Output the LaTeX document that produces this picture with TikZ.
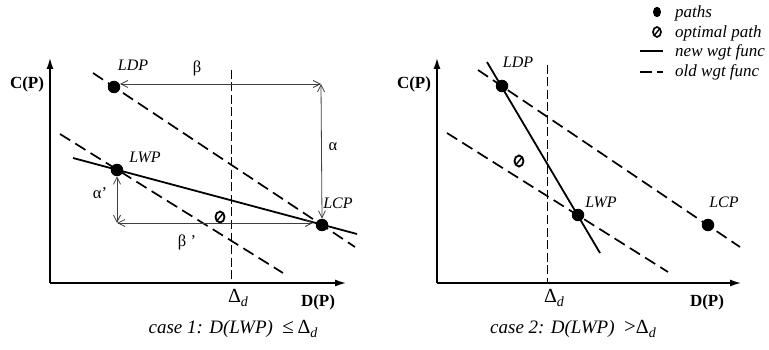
\documentclass[tikz,border=0pt]{standalone}
\usepackage{fontspec}
\setmainfont{Liberation Serif}
\usetikzlibrary{arrows.meta,shapes.geometric}
\newcommand{\Dd}{{\upshape\fontsize{20}{20}\selectfont Δ}\raisebox{-4pt}{\fontsize{14}{14}\selectfont\itshape d}}
\begin{document}
\begin{tikzpicture}[x=1pt,y=-1pt,
  axis/.style={line width=2.2pt,-{Latex[length=12pt,width=7pt]}},
  olddash/.style={line width=1.7pt,dash pattern=on 12pt off 6pt},
  newline/.style={line width=1.8pt},
  deltaline/.style={line width=0.9pt,dash pattern=on 9pt off 3.5pt},
  dimarrow/.style={line width=0.8pt,draw=black!75,{Straight Barb[length=7pt,width=7pt]}-{Straight Barb[length=7pt,width=7pt]}},
  pathdot/.style={circle,fill=black,inner sep=0pt,minimum size=12.5pt},
  optdot/.style={ellipse,draw=black,fill=white,line width=1.8pt,inner sep=0pt,minimum width=9pt,minimum height=11pt,
    path picture={\draw[line width=1.4pt] (path picture bounding box.south west) -- (path picture bounding box.north east);}},
  legdot/.style={ellipse,fill=black,inner sep=0pt,minimum width=8pt,minimum height=10.5pt},
  lbl/.style={font=\fontsize{16}{16}\selectfont\itshape,inner sep=0pt},
  greek/.style={font=\fontsize{16.5}{16.5}\selectfont,inner sep=0pt},
  axlbl/.style={font=\fontsize{17}{17}\selectfont\bfseries,inner sep=0pt},
  captext/.style={font=\fontsize{19}{19}\selectfont\itshape,inner sep=0pt,anchor=base},
  legtext/.style={font=\fontsize{17}{17}\selectfont\itshape,inner sep=0pt,anchor=west}]
\useasboundingbox (0,0) rectangle (769,350);

% ---------------- left panel ----------------
\coordinate (O1) at (50,283);
\coordinate (Y1) at (50,57);
\coordinate (X1) at (347,283);
\draw[axis] (O1) -- (Y1);
\draw[axis] (O1) -- (X1);
\node[axlbl] (cp1) at (27,84) {C(P)};
\node[axlbl] (dp1) at (318,302) {D(P)};

\coordinate (dT1) at (231,70);
\coordinate (dB1) at (231,283);
\draw[deltaline] (dT1) -- (dB1);
\node[inner sep=0pt] (dl1) at (238,298) {\Dd};

\coordinate (ua1) at (93,73);
\coordinate (ub1) at (355,247);
\coordinate (la1) at (60,134);
\coordinate (lb1) at (283,273);
\coordinate (sa1) at (73,158);
\coordinate (sb1) at (357,234);
\draw[olddash] (ua1) -- (ub1);
\draw[olddash] (la1) -- (lb1);
\draw[newline] (sa1) -- (sb1);

\coordinate (b1) at (120,84);
\coordinate (cor1) at (321,84);
\coordinate (ap1) at (117,223);
\coordinate (bp1) at (313,223);
\node[pathdot] (LDP1) at (114,87) {};
\node[pathdot] (LWP1) at (117,170) {};
\node[pathdot] (LCP1) at (322,225) {};
\draw[dimarrow] (b1) -- (cor1);
\draw[dimarrow] (cor1) -- (LCP1.north);
\draw[dimarrow] (LWP1.south) -- (ap1);
\draw[dimarrow] (ap1) -- (bp1);
\node[optdot] (opt1) at (220,217) {};

\node[lbl] (tLDP1) at (133,65) {LDP};
\node[lbl] (tLWP1) at (145,157) {LWP};
\node[lbl] (tLCP1) at (338,203) {LCP};
\node[greek] (beta1) at (197,68) {β};
\node[greek] (alpha1) at (333,147) {α};
\node[greek] (alphap1) at (100,193) {α’};
\node[greek] (betap1) at (187,242) {β ’};

\node[captext] (cap1) at (233,333) {case 1: D(LWP)\ \ {\upshape\fontsize{21}{21}\selectfont ≤\,}\Dd};

% ---------------- right panel ----------------
\coordinate (O2) at (437,283);
\coordinate (Y2) at (437,57);
\coordinate (X2) at (742,283);
\draw[axis] (O2) -- (Y2);
\draw[axis] (O2) -- (X2);
\node[axlbl] (cp2) at (414,84) {C(P)};
\node[axlbl] (dp2) at (707,302) {D(P)};

\coordinate (dT2) at (547,65);
\coordinate (dB2) at (547,283);
\draw[deltaline] (dT2) -- (dB2);
\node[inner sep=0pt] (dl2) at (554,298) {\Dd};

\coordinate (ua2) at (478,70);
\coordinate (ub2) at (740,247);
\coordinate (la2) at (447,133);
\coordinate (lb2) at (668,272);
\coordinate (sa2) at (487,62);
\coordinate (sb2) at (600,253);
\draw[olddash] (ua2) -- (ub2);
\draw[olddash] (la2) -- (lb2);
\draw[newline] (sa2) -- (sb2);

\node[pathdot] (LDP2) at (502,86) {};
\node[pathdot] (LWP2) at (578,215) {};
\node[pathdot] (LCP2) at (708,225) {};
\node[optdot] (opt2) at (519,161) {};

\node[lbl] (tLDP2) at (518,62) {LDP};
\node[lbl] (tLWP2) at (601,202) {LWP};
\node[lbl] (tLCP2) at (724,202) {LCP};

\node[captext] (cap2) at (573,333) {case 2: D(LWP)\ \ {\upshape\fontsize{21}{21}\selectfont >}\Dd};

% ---------------- legend ----------------
\node[legdot] (kd) at (657,12) {};
\node[legtext] (kt1) at (675,13) {paths};
\node[optdot,minimum width=8pt,minimum height=10pt,line width=1.6pt] (ko) at (657,32) {};
\node[legtext] (kt2) at (675,33) {optimal path};
\coordinate (ks1) at (640,51);
\coordinate (ks2) at (663,51);
\draw[newline] (ks1) -- (ks2);
\node[legtext] (kt3) at (675,52) {new wgt func};
\coordinate (kq1) at (640,72);
\coordinate (kq2) at (663,72);
\draw[line width=1.8pt,dash pattern=on 12pt off 5pt on 6pt off 10pt] (kq1) -- (kq2);
\node[legtext] (kt4) at (675,72) {old wgt func};
\end{tikzpicture}
\end{document}
